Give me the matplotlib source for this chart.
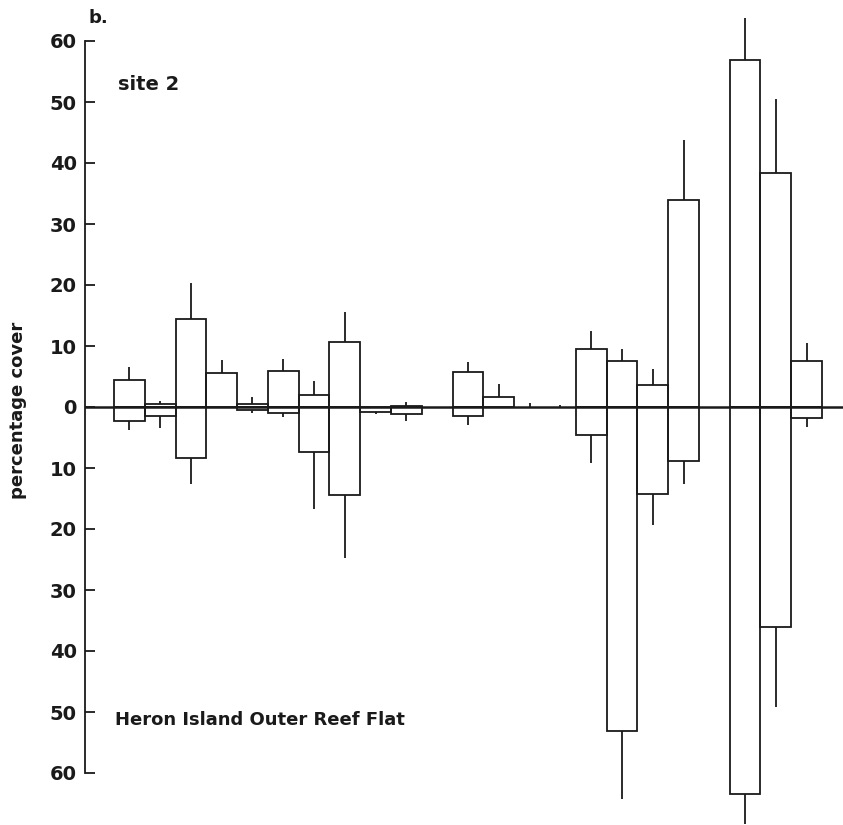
import numpy as np
import matplotlib
matplotlib.use("Agg")
import matplotlib.pyplot as plt

# percentage cover per slot: positive (above zero) and negative (below zero) parts
slot = np.arange(23)
cover_up = [4.4, 0.5, 14.5, 5.6, 0.5, 5.9, 1.9, 10.7, 0.0, 0.1, 0.0, 5.8, 1.7,
            0.0, 0.0, 9.5, 7.6, 3.6, 33.9, 0.0, 56.9, 38.3, 7.6]
err_up = [2.2, 0.5, 5.9, 2.1, 1.1, 2.0, 2.4, 4.9, 0.0, 0.7, 0.0, 1.5, 2.1,
          0.6, 0.4, 2.9, 1.9, 2.6, 9.8, 0.0, 6.9, 12.2, 2.9]
cover_down = [2.3, 1.4, 8.3, 0.0, 0.5, 1.0, 7.4, 14.4, 0.8, 1.1, 0.0, 1.4, 0.0,
              0.0, 0.0, 4.6, 53.1, 14.3, 8.8, 0.0, 63.4, 36.1, 1.8]
err_down = [1.5, 2.0, 4.4, 0.0, 0.5, 0.6, 9.4, 10.4, 0.4, 1.2, 0.0, 1.5, 0.0,
            0.0, 0.0, 4.5, 11.1, 5.1, 3.9, 0.0, 5.0, 13.0, 1.5]

yticks = np.arange(-60, 61, 10)
ytick_labels = [str(abs(v)) for v in yticks]

fig = plt.figure(figsize=(8.43, 8.25), dpi=100)
ax = fig.add_axes([85 / 843, 1 - 773 / 825, 1 - 85 / 843, (773 - 41) / 825])

up = np.array(cover_up)
dn = np.array(cover_down)
eu = np.array(err_up)
ed = np.array(err_down)

# open boxes above and below the zero line
mask_u = up > 0
mask_d = dn > 0
ax.bar(slot[mask_u], up[mask_u], width=1, align="edge", fill=False,
       edgecolor="#1a1a1a", linewidth=1.3, clip_on=False)
ax.bar(slot[mask_d], -dn[mask_d], width=1, align="edge", fill=False,
       edgecolor="#1a1a1a", linewidth=1.3, clip_on=False)

# one-sided error lines from the end of each box
mid = slot + 0.5
m = eu > 0
ax.vlines(mid[m], up[m], up[m] + eu[m], color="#1a1a1a", linewidth=1.3, clip_on=False)
m = ed > 0
ax.vlines(mid[m], -dn[m], -dn[m] - ed[m], color="#1a1a1a", linewidth=1.3, clip_on=False)

ax.axhline(0, color="#1a1a1a", linewidth=1.8)

ax.set_xlim(-0.94, 23.68)
ax.set_ylim(-60, 60)
for s in ["top", "right", "bottom"]:
    ax.spines[s].set_visible(False)
ax.spines["left"].set_linewidth(1.3)
ax.spines["left"].set_color("#1a1a1a")
ax.set_xticks([])
ax.set_yticks(yticks)
ax.set_yticklabels(ytick_labels, fontsize=14, fontweight="bold", color="#1a1a1a")
ax.tick_params(axis="y", direction="in", length=7, width=1.3, pad=6, color="#1a1a1a")
ax.patch.set_alpha(0)

fig.text(18 / 843, 1 - 410 / 825, "percentage cover", rotation=90, fontsize=13,
         fontweight="bold", ha="center", va="center", color="#1a1a1a")
fig.text(88 / 843, 1 - 18 / 825, "b.", fontsize=13, fontweight="bold",
         ha="left", va="center", color="#1a1a1a")
fig.text(118 / 843, 1 - 85 / 825, "site 2", fontsize=14, fontweight="bold",
         ha="left", va="center", color="#1a1a1a")
fig.text(115 / 843, 1 - 720 / 825, "Heron Island Outer Reef Flat", fontsize=13,
         fontweight="bold", ha="left", va="center", color="#1a1a1a")

fig.savefig("out.png", dpi=100, facecolor="white")
